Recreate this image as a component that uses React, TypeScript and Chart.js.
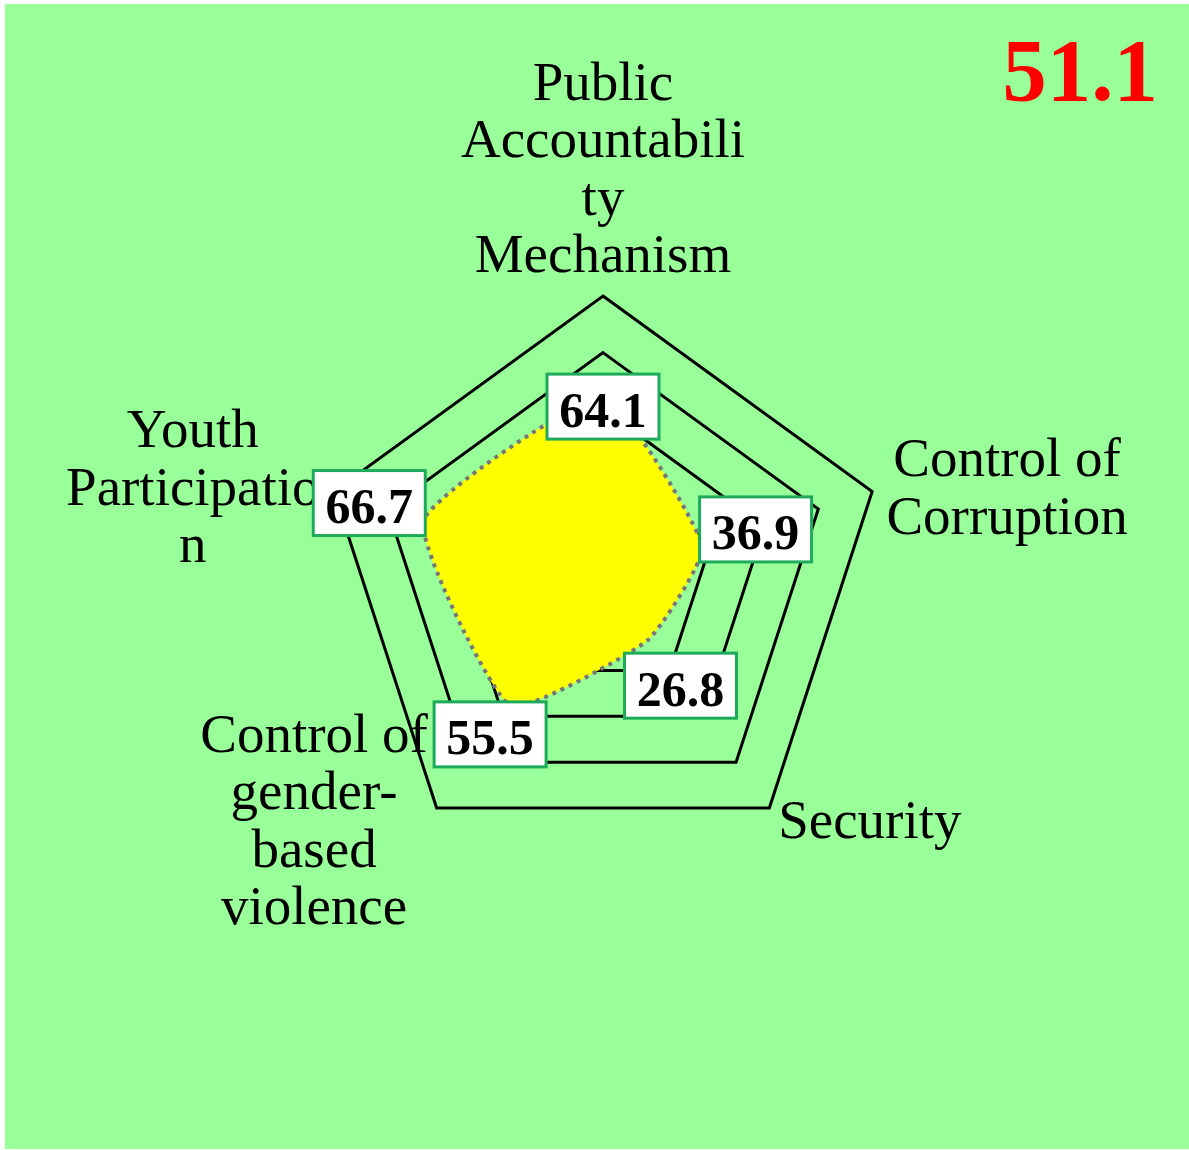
import React, { useEffect, useRef } from 'react';
import { Chart, registerables } from 'chart.js';

Chart.register(...registerables);

// ---- data ----
const categories: string[][] = [
  ['Public', 'Accountabili', 'ty', 'Mechanism'],
  ['Control of', 'Corruption'],
  ['Security'],
  ['Control of', 'gender-', 'based', 'violence'],
  ['Youth', 'Participatio', 'n'],
];
const scores: number[] = [64.1, 36.9, 26.8, 55.5, 66.7];
const overallScore = '51.1';
const scaleMin = 0;
const scaleMax = 100;
const scaleStep = 20;

// ---- styling (radial offsets of value boxes, in px) ----
const valueLabelOffsets = [-9, 56, 56, 35, 57];

const CANVAS_W = 1184;
const CANVAS_H = 1145;

const bgPlugin = {
  id: 'bgFill',
  beforeDraw(chart: any) {
    const ctx = chart.ctx;
    ctx.save();
    ctx.fillStyle = '#99FF99';
    ctx.fillRect(0, 0, chart.width, chart.height);
    ctx.restore();
  },
};

const labelsPlugin = {
  id: 'customLabels',
  afterDatasetsDraw(chart: any) {
    const scale = chart.scales.r;
    const ctx = chart.ctx;
    ctx.save();

    // axis (category) labels
    ctx.font = '55px "Liberation Serif"';
    ctx.fillStyle = '#000000';
    ctx.textAlign = 'center';
    ctx.textBaseline = 'alphabetic';
    const LH = 57.5;
    (chart.data.labels as string[][]).forEach((lines, i) => {
      const p = scale.getPointPosition(i, scale.drawingArea + 15);
      const maxW = Math.max(...lines.map((l) => ctx.measureText(l).width));
      const cos = Math.cos(p.angle);
      const sin = Math.sin(p.angle);
      let cx: number;
      if (Math.abs(cos) < 0.1) cx = p.x;
      else if (cos > 0) cx = p.x + maxW / 2;
      else cx = p.x - maxW / 2;
      let b0: number;
      if (Math.abs(cos) < 0.1 && sin < 0) b0 = p.y - 9 - (lines.length - 1) * LH;
      else b0 = p.y + 18 - ((lines.length - 1) * LH) / 2;
      lines.forEach((l, j) => ctx.fillText(l, cx, b0 + j * LH));
    });

    // value boxes
    const values = chart.data.datasets[0].data as number[];
    values.forEach((v, i) => {
      const d = scale.getDistanceFromCenterForValue(v) + valueLabelOffsets[i];
      const p = scale.getPointPosition(i, d);
      const w = 112;
      const h = 65;
      ctx.fillStyle = '#FFFFFF';
      ctx.fillRect(p.x - w / 2, p.y - h / 2, w, h);
      ctx.strokeStyle = '#1DAA5A';
      ctx.lineWidth = 3;
      ctx.strokeRect(p.x - w / 2, p.y - h / 2, w, h);
      ctx.font = 'bold 50px "Liberation Serif"';
      ctx.fillStyle = '#000000';
      ctx.textAlign = 'center';
      ctx.textBaseline = 'alphabetic';
      ctx.fillText(v.toFixed(1), p.x, p.y + 20);
    });

    // overall score
    ctx.font = 'bold 89px "Liberation Serif"';
    ctx.fillStyle = '#FF0000';
    ctx.textAlign = 'right';
    ctx.textBaseline = 'alphabetic';
    ctx.fillText(overallScore, chart.width - 31, 96);

    ctx.restore();
  },
};

export default function App() {
  const canvasRef = useRef<HTMLCanvasElement | null>(null);

  useEffect(() => {
    if (!canvasRef.current) return;
    const chart = new Chart(canvasRef.current, {
      type: 'radar',
      data: {
        labels: categories as any,
        datasets: [
          {
            data: scores,
            backgroundColor: '#FFFF00',
            borderColor: '#777777',
            borderWidth: 4,
            borderDash: [4, 5],
            pointRadius: 0,
            pointHoverRadius: 0,
            fill: true,
            tension: 0.15,
          },
        ],
      },
      options: {
        animation: false,
        responsive: false,
        maintainAspectRatio: false,
        devicePixelRatio: 1,
        layout: { padding: { left: 315, top: 292, right: 303, bottom: 287 } },
        plugins: {
          legend: { display: false },
          tooltip: { enabled: false },
          title: { display: false },
        },
        scales: {
          r: {
            min: scaleMin,
            max: scaleMax,
            ticks: { stepSize: scaleStep, display: false },
            grid: { color: '#000000', lineWidth: 3, circular: false },
            angleLines: { display: false },
            pointLabels: { display: false },
          },
        },
      },
      plugins: [bgPlugin, labelsPlugin],
    });
    return () => chart.destroy();
  }, []);

  return (
    <div style={{ position: 'absolute', left: 5, top: 4, width: CANVAS_W, height: CANVAS_H }}>
      <canvas ref={canvasRef} width={CANVAS_W} height={CANVAS_H} style={{ display: 'block', width: CANVAS_W, height: CANVAS_H }} />
    </div>
  );
}
